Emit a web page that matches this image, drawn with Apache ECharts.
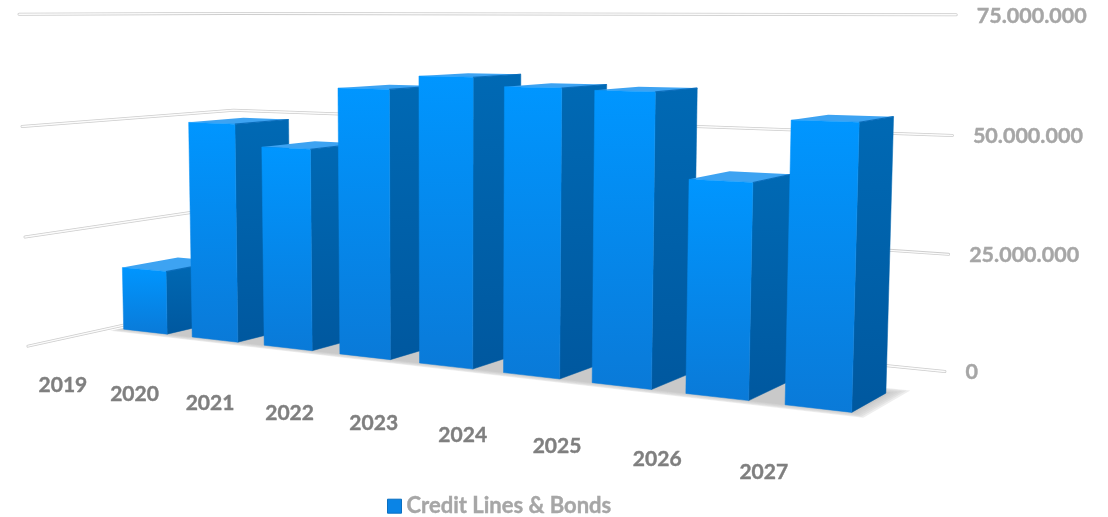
<!DOCTYPE html>
<html>
<head>
<meta charset="utf-8">
<style>
  html, body { margin: 0; padding: 0; background: #fff; }
  #chart { width: 1108px; height: 517px; }
</style>
<script src="https://cdn.jsdelivr.net/npm/echarts@6/dist/echarts.min.js"></script>
</head>
<body>
<div id="chart"></div>
<script>
// Chart data
const years = ['2019', '2020', '2021', '2022', '2023', '2024', '2025', '2026', '2027'];
const creditLinesBonds = [14900000, 50200000, 45300000, 59000000, 62000000, 60200000, 59900000, 42900000, 55200000];
const valueTicks = [0, 25000000, 50000000, 75000000];
const valueTickLabels = ['0', '25.000.000', '50.000.000', '75.000.000'];
const seriesName = 'Credit Lines & Bonds';

// Camera: three vanishing points and the image of the rear floor corner.
const camera = {
  origin: [236, 300.5],
  vpWidth: [-2685, 8],
  vpHeight: [451, 16000],
  vpDepth: [1569, 8],
  wWidth: -0.1953,
  wHeight: -0.01796,
  wDepth: -0.135
};

// Box proportions in unit space
const barShare = 0.64;
const depthBack = 0.364;
const depthFront = 0.632;

// Shadow falloff: outer reach of each layer beyond the row of bars
const shadowReach = [0.06, 0.05, 0.04, 0.03, 0.02, 0.012];

// Projects unit box coordinates (width, height, depth) on to the canvas
function project(u, v, d) {
  const c = camera;
  const a = c.wWidth * u, b = c.wHeight * v, e = c.wDepth * d;
  const w = a + b + e + 1;
  return [
    (a * c.vpWidth[0] + b * c.vpHeight[0] + e * c.vpDepth[0] + c.origin[0]) / w,
    (a * c.vpWidth[1] + b * c.vpHeight[1] + e * c.vpDepth[1] + c.origin[1]) / w
  ];
}

// Reads a datum through the hidden cartesian scales as unit coordinates
function toUnit(params, api, category, value) {
  const cs = params.coordSys;
  const p = api.coord([category, value]);
  return [(p[0] - cs.x) / cs.width, (cs.y + cs.height - p[1]) / cs.height];
}

function grad(top, bottom) {
  return new echarts.graphic.LinearGradient(0, 0, 0, 1, [
    { offset: 0, color: top },
    { offset: 1, color: bottom }
  ]);
}

function poly(points, fill, extra) {
  return {
    type: 'polygon',
    shape: { points: points },
    style: Object.assign({ fill: fill }, extra || {})
  };
}

function barSpan(params, api) {
  const idx = api.value(0);
  const cs = params.coordSys;
  const band = api.size([1, 0])[0] / cs.width;
  const half = band * barShare / 2;
  const c = toUnit(params, api, idx, api.value(1));
  return { x0: c[0] - half, x1: c[0] + half, top: c[1], band: band };
}

// Rear wall and side wall rules with the value labels
function renderWall(params, api) {
  const v = toUnit(params, api, 0, api.value(0))[1];
  const pts = [project(0, v, 1), project(0, v, 0), project(1, v, 0)];
  const end = pts[2];
  return {
    type: 'group',
    children: [
      { type: 'polyline', shape: { points: pts }, style: { fill: null, stroke: '#cdcdcd', lineWidth: 3, lineCap: 'round', lineJoin: 'round' } },
      { type: 'polyline', shape: { points: pts }, style: { fill: null, stroke: '#fbfbfb', lineWidth: 1.4, lineCap: 'round', lineJoin: 'round' } },
      {
        type: 'text', x: end[0] + 20.5, y: end[1] + 1,
        style: {
          text: valueTickLabels[params.dataIndex], fill: '#a6a6a6',
          stroke: '#a6a6a6', lineWidth: 0.4,
          fontFamily: 'Lato', fontWeight: 'bold', fontSize: 21.5,
          align: 'left', verticalAlign: 'middle'
        }
      }
    ]
  };
}

// One soft shadow on the floor under the whole row, built from stacked layers
function renderShadow(params, api) {
  if (params.dataIndex !== 0) return null;
  const s = barSpan(params, api);
  const n = years.length;
  const xEnd = s.x1 + s.band * (n - 1);
  const layers = shadowReach.map((r, i) => {
    const right = xEnd + r * 0.3, left = s.x0 - r * 0.12;
    const back = depthBack - r * 1.1, front = depthFront + r * 0.85 - 0.008;
    return poly(
      [project(left, 0, back), project(right, 0, back), project(right, 0, front), project(left, 0, front)],
      i === shadowReach.length - 1 ? '#c9c9c9' : 'rgba(200,200,200,0.3)'
    );
  });
  return { type: 'group', children: layers };
}

// Front, side and top faces of each bar
function renderBar(params, api) {
  const s = barSpan(params, api);
  const v = s.top;
  const fl0 = project(s.x0, 0, depthFront), fr0 = project(s.x1, 0, depthFront);
  const fl1 = project(s.x0, v, depthFront), fr1 = project(s.x1, v, depthFront);
  const br0 = project(s.x1, 0, depthBack), br1 = project(s.x1, v, depthBack);
  const bl1 = project(s.x0, v, depthBack);
  const sideFill = grad('#0069b4', '#00589f');
  const frontFill = grad('#0096ff', '#0a7ad8');
  return {
    type: 'group',
    children: [
      poly([fr0, br0, br1, fr1], sideFill, { stroke: sideFill, lineWidth: 0.5 }),
      poly([fl1, fr1, br1, bl1], '#3da3f2'),
      poly([fl0, fr0, fr1, fl1], frontFill, { stroke: frontFill, lineWidth: 0.5 }),
      { type: 'polyline', shape: { points: [fr1, br1] }, style: { fill: null, stroke: '#0a6dbb', lineWidth: 1.2 } }
    ]
  };
}

// Year labels follow the front edge of the floor
function renderYear(params, api) {
  const c = toUnit(params, api, api.value(0), 0);
  const p = project(c[0], 0, 1);
  return {
    type: 'text', x: p[0] + 0.5, y: p[1] + 34.5,
    style: {
      text: years[params.dataIndex], fill: '#7f7f7f',
      stroke: '#7f7f7f', lineWidth: 0.4,
      fontFamily: 'Lato', fontWeight: 'bold', fontSize: 21,
      align: 'center', verticalAlign: 'middle'
    }
  };
}

const barData = creditLinesBonds.map((v, i) => [i, v]);

const chart = echarts.init(document.getElementById('chart'), null, { renderer: 'canvas' });
chart.setOption({
  animation: false,
  backgroundColor: '#ffffff',
  grid: { left: 0, top: 0, right: 0, bottom: 0 },
  xAxis: { type: 'category', data: years, show: false },
  yAxis: { type: 'value', min: 0, max: 75000000, interval: 25000000, show: false },
  legend: {
    data: [{ name: seriesName, icon: 'rect', itemStyle: { color: '#0a84e6', borderColor: '#0b6fc0', borderWidth: 1 } }],
    left: 387, top: 495, padding: 0,
    itemWidth: 14, itemHeight: 14, itemGap: 5,
    textStyle: {
      color: '#a6a6a6', fontFamily: 'Lato', fontWeight: 'bold', fontSize: 22,
      textBorderColor: '#a6a6a6', textBorderWidth: 0.4, padding: [2, 0, 0, 0]
    }
  },
  series: [
    {
      type: 'custom', name: 'rules', z: 1, silent: true, coordinateSystem: 'cartesian2d',
      encode: { y: 0 },
      data: valueTicks.map(v => [v]),
      renderItem: (params, api) => {
        const v = api.value(0);
        return renderWall(params, { value: () => v, coord: api.coord, size: api.size });
      }
    },
    {
      type: 'custom', name: 'floor shadow', z: 2, silent: true, coordinateSystem: 'cartesian2d',
      encode: { x: 0, y: 1 }, data: barData, renderItem: renderShadow
    },
    {
      type: 'custom', name: seriesName, z: 3, coordinateSystem: 'cartesian2d',
      itemStyle: { color: '#0a84e6' },
      encode: { x: 0, y: 1 }, data: barData, renderItem: renderBar
    },
    {
      type: 'custom', name: 'years', z: 4, silent: true, coordinateSystem: 'cartesian2d',
      encode: { x: 0, y: 1 }, data: barData, renderItem: renderYear
    }
  ]
});
</script>
</body>
</html>
